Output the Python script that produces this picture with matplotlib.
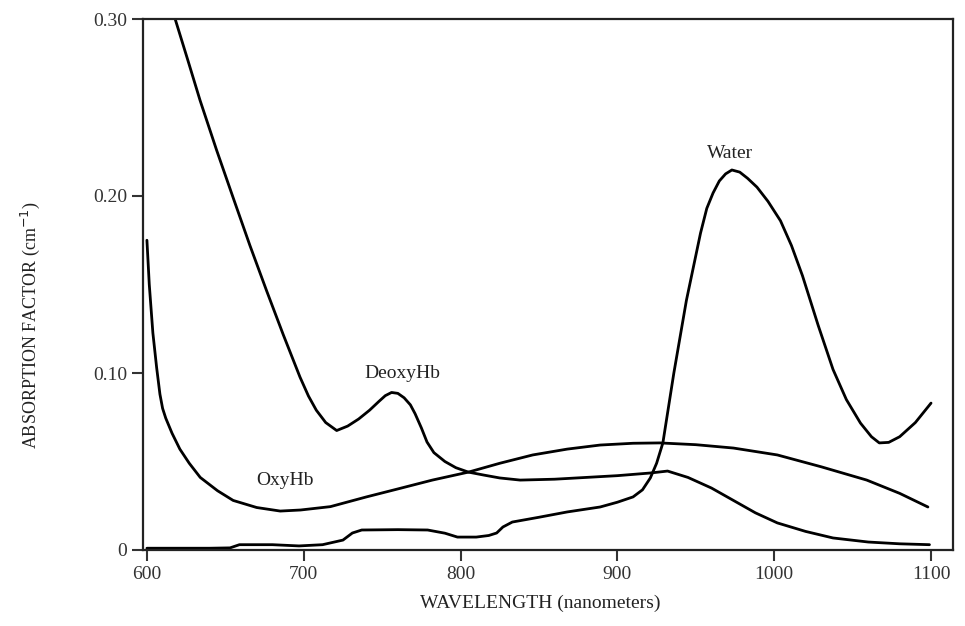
import matplotlib
matplotlib.use("Agg")
import matplotlib.pyplot as plt

# Wavelength (nm) / absorption (cm^-1)
deoxy_x = [618, 626, 633.9, 644.4, 655, 665.7, 676.3, 687, 697.6, 703, 708, 714, 721, 728, 735, 742, 748, 752, 756, 760, 764, 768, 771, 775, 778.6, 783, 790, 797, 805, 815, 825, 838, 860, 880, 900, 921, 932, 945, 960, 974, 988, 1002, 1020, 1037.5, 1060, 1080, 1099]
deoxy_y = [0.300, 0.277, 0.254, 0.226, 0.199, 0.172, 0.1465, 0.1215, 0.0977, 0.087, 0.079, 0.072, 0.0675, 0.070, 0.074, 0.079, 0.084, 0.0872, 0.089, 0.0885, 0.086, 0.082, 0.077, 0.069, 0.061, 0.055, 0.050, 0.0465, 0.044, 0.0423, 0.0407, 0.0395, 0.040, 0.041, 0.042, 0.0435, 0.0446, 0.041, 0.035, 0.028, 0.021, 0.0153, 0.0105, 0.0068, 0.0045, 0.0035, 0.003]

oxy_x = [600, 601.5, 603.8, 606.2, 608.3, 610, 612, 616, 621, 627, 634, 645, 655, 670, 685, 698, 717, 740, 760, 782, 805, 825, 846, 868, 889, 910, 927, 950, 974, 1002, 1030, 1059, 1080, 1098]
oxy_y = [0.175, 0.150, 0.1226, 0.103, 0.088, 0.080, 0.0745, 0.066, 0.057, 0.049, 0.041, 0.0335, 0.028, 0.024, 0.022, 0.0226, 0.0245, 0.030, 0.0345, 0.0395, 0.044, 0.049, 0.0537, 0.057, 0.0593, 0.0603, 0.0605, 0.0595, 0.0576, 0.0537, 0.047, 0.0395, 0.032, 0.0243]

water_x = [600, 620, 640, 653, 659, 680, 697, 712, 725, 731, 737, 760, 779, 790, 798, 810, 818, 823, 827, 833, 850, 868, 889, 900, 910, 916, 921, 925, 929, 936, 944, 953, 957, 961, 965, 969, 973, 978, 983, 989, 996, 1004, 1011, 1018, 1028, 1037.5, 1046, 1055, 1062, 1067, 1073, 1080, 1090, 1100]
water_y = [0.001, 0.001, 0.001, 0.0012, 0.003, 0.003, 0.0023, 0.003, 0.0056, 0.0096, 0.0113, 0.0115, 0.0113, 0.0095, 0.0073, 0.0073, 0.0082, 0.0096, 0.013, 0.0158, 0.0185, 0.0215, 0.0243, 0.027, 0.030, 0.034, 0.0407, 0.049, 0.0605, 0.100, 0.141, 0.179, 0.193, 0.2017, 0.2085, 0.2125, 0.2147, 0.2135, 0.210, 0.205, 0.197, 0.186, 0.172, 0.155, 0.127, 0.102, 0.085, 0.0717, 0.064, 0.0605, 0.0608, 0.064, 0.072, 0.083]

x_ticks = [600, 700, 800, 900, 1000, 1100]
x_tick_labels = ["600", "700", "800", "900", "1000", "1100"]
y_ticks = [0, 0.10, 0.20, 0.30]
y_tick_labels = ["0", "0.10", "0.20", "0.30"]

plt.rcParams['font.family'] = ['Liberation Serif', 'DejaVu Serif']

fig = plt.figure(figsize=(9.65, 6.26), dpi=100)
ax = fig.add_axes([143 / 965, 1 - 550 / 626, (953 - 143) / 965, 531 / 626])

lw = 2.0
for xs, ys in ((deoxy_x, deoxy_y), (oxy_x, oxy_y), (water_x, water_y)):
    ax.plot(xs, ys, color='black', lw=lw, solid_joinstyle='round', solid_capstyle='round')

ax.set_xlim(597.5, 1114)
ax.set_ylim(0, 0.30)
ax.set_xticks(x_ticks)
ax.set_xticklabels(x_tick_labels)
ax.set_yticks(y_ticks)
ax.set_yticklabels(y_tick_labels)
ax.tick_params(direction='out', length=8, width=1.5, labelsize=14, colors='#333333')
for s in ax.spines.values():
    s.set_linewidth(1.6)
    s.set_color('#222222')

ax.text(972, 0.224, "Water", fontsize=14, ha='center', va='center', color='#222222')
ax.text(763, 0.100, "DeoxyHb", fontsize=14, ha='center', va='center', color='#222222')
ax.text(688, 0.039, "OxyHb", fontsize=14, ha='center', va='center', color='#222222')

fig.text(540 / 965, 1 - 603 / 626, "WAVELENGTH (nanometers)", fontsize=14, ha='center', va='center', color='#222222')
fig.text(30 / 965, 1 - 325 / 626, r"ABSORPTION FACTOR (cm$^{-1}$)", fontsize=13, rotation=90, ha='center', va='center', color='#222222')

fig.savefig("out.png", dpi=100)
